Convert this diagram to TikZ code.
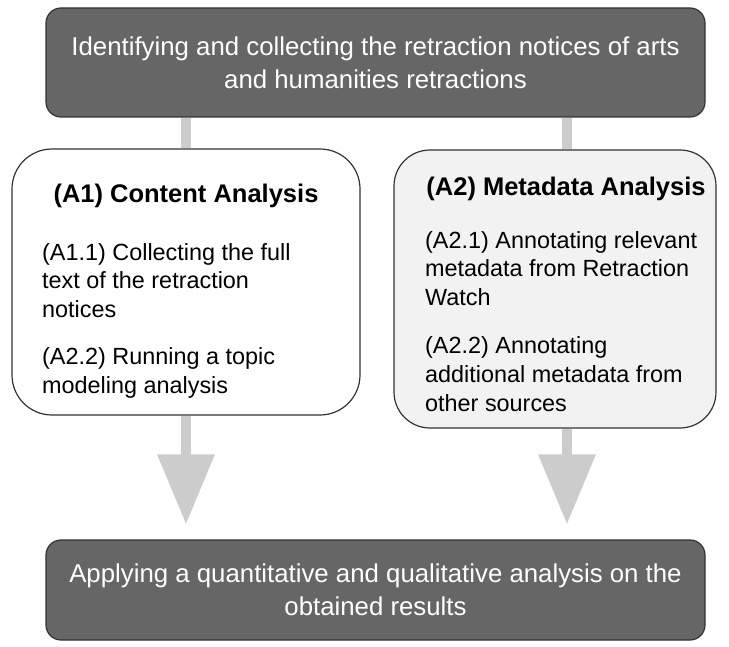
\documentclass[tikz,border=0pt]{standalone}
\usepackage{fontspec}
\setmainfont{Liberation Sans}
\usetikzlibrary{arrows.meta, calc, positioning}

\tikzset{
  darkbox/.style={draw=black!80, line width=1.2pt, fill=black!60, text=white,
    rounded corners=15pt, align=center, inner sep=0,
    font=\fontsize{25.8}{33}\selectfont},
  stagebox/.style={draw=black!80, line width=1.2pt, fill=white, inner sep=0},
  heading/.style={anchor=base, inner sep=0, font=\bfseries\fontsize{25.5}{30}\selectfont},
  body/.style={anchor=north west, inner sep=0, align=left,
    font=\fontsize{23.4}{28.6}\selectfont},
  shaft/.style={draw=black!20, line width=10pt},
  bigarrow/.style={shaft, -{Triangle[width=55pt,length=70pt]}}
}

\begin{document}
\begin{tikzpicture}[x=1pt,y=-1pt]
      \useasboundingbox (0,0) rectangle (729,647);

      \node [darkbox, minimum width=659pt, minimum height=109pt] (top) at (375.5,62.5)
        {Identifying and collecting the retraction notices of arts\\and humanities retractions};

      \node [stagebox, minimum width=348pt, minimum height=266pt, rounded corners=40pt] (ca) at (186,282) {};
      \node [stagebox, fill=black!5, minimum width=322pt, minimum height=278pt, rounded corners=36pt] (ma) at (555,289) {};

      \node [darkbox, minimum width=659pt, minimum height=100pt] (bottom) at (375.5,590)
        {Applying a quantitative and qualitative analysis on the\\obtained results};

      % content analysis
      \node [heading] (ca title) at (186,203) {(A1) Content Analysis};
      \node [body] (ca text) at (42,243) {(A1.1) Collecting the full\\text of the retraction\\notices\\[19pt]
        (A2.2) Running a topic\\modeling analysis};

      % metadata analysis
      \node [heading] (ma title) at (566,196) {(A2) Metadata Analysis};
      \node [body] (ma text) at (425,231) {(A2.1) Annotating relevant\\metadata from Retraction\\Watch\\[20pt]
        (A2.2) Annotating\\additional metadata from\\other sources};

      % connectors
      \coordinate (rx) at (567,0);
      \draw [shaft] (top.south -| ca) -- (ca.north);
      \draw [shaft] (top.south -| rx) -- (ma.north -| rx);
      \draw [bigarrow] (ca.south) -- ($(bottom.north -| ca)+(0,-15)$);
      \draw [bigarrow] (ma.south -| rx) -- ($(bottom.north -| rx)+(0,-15)$);
    \end{tikzpicture}
\end{document}
